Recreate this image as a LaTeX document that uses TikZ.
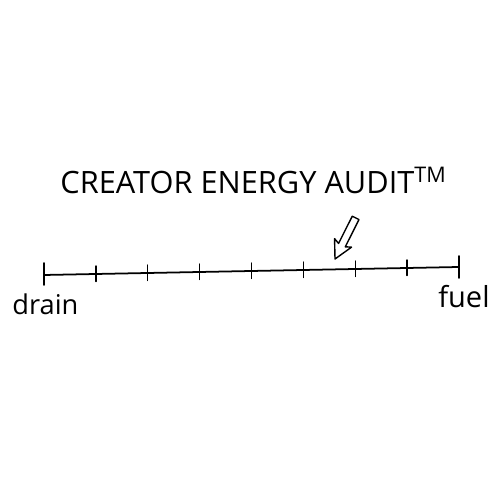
\documentclass[tikz,border=0pt]{standalone}
\usepackage{fontspec}
\setmainfont{Open Sans}
\usetikzlibrary{calc}

\begin{document}
\begin{tikzpicture}[line cap=round,line join=round]
\useasboundingbox (0,0) rectangle (10,10);
\coordinate (d) at (0.88,4.5);
\coordinate (f) at (9.18,4.66);
\draw[line width=1pt] (d)--(f);
\foreach \i in {1,...,7}
  \draw[line width=0.8pt] ($(d)!\i/8!(f)+(0,-0.15)$)--++(0,0.31);
\draw[line width=1pt] ($(d)+(0,-0.2)$)--++(0,0.44);
\draw[line width=1pt] ($(f)+(0,-0.22)$)--++(0,0.44);
% hollow pointer
\coordinate (tip) at (6.7,4.82);
\begin{scope}[shift={(tip)},rotate=63.4]
\draw[line width=0.8pt] (0,0)--(0.36,0.19)--(0.31,0.075)--(0.92,0.075)--(0.92,-0.075)--(0.31,-0.075)--(0.36,-0.19)--cycle;
\end{scope}
\node (title) at (5.07,6.4) {\fontsize{17.5}{21}\selectfont CREATOR ENERGY AUDIT\textsuperscript{TM}};
\node[anchor=base west,inner sep=0pt] (drain) at (0.24,3.7) {\fontsize{15.5}{19}\selectfont drain};
\node[anchor=base west,inner sep=0pt] (fuel) at (8.76,3.84) {\fontsize{16.5}{20}\selectfont fuel};
\end{tikzpicture}
\end{document}
